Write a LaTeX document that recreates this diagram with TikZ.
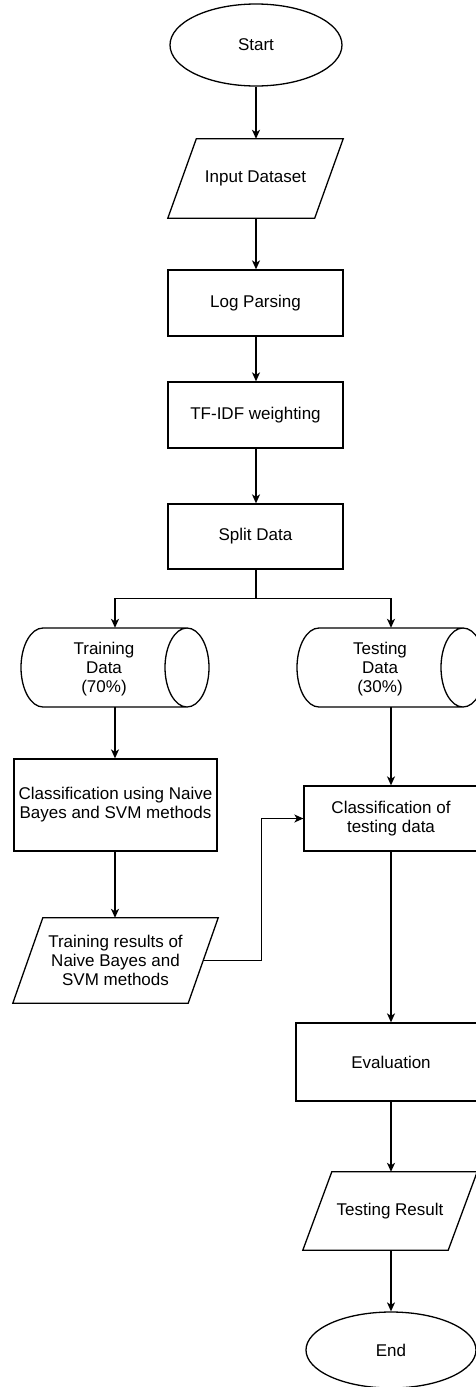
\documentclass[tikz,border=0pt]{standalone}
\usepackage{fontspec}
\setmainfont{Liberation Sans}
\usetikzlibrary{shapes.geometric,arrows.meta,calc}
\newcommand\paradraw[2]{\draw[line] ([xshift=-#2]#1.south west) -- ([xshift=-#2]#1.south east) -- ([xshift=#2]#1.north east) -- ([xshift=#2]#1.north west) -- cycle;}
\begin{document}
\begin{tikzpicture}[x=1pt,y=1pt,
  line/.style={line width=1.3pt,black},
  arr/.style={line,-{Stealth[length=9pt,width=8pt,inset=2.5pt]}},
  txt/.style={font=\fontsize{17}{19}\selectfont,align=center,inner sep=0pt},
  box/.style={txt,line,draw,rectangle},
  term/.style={txt,line,draw,ellipse,inner sep=0pt},
  para/.style={txt,rectangle}]
\useasboundingbox (0,0) rectangle (475,-1387);

\node[term,minimum width=172pt,minimum height=82pt] (start) at (256,-45) {Start};
\node[para,minimum width=146.5pt,minimum height=79pt] (input) at (255.5,-178.5) {Input Dataset};
\paradraw{input}{14.25pt}
\node[box,minimum width=175pt,minimum height=66pt] (log) at (255.5,-303) {Log Parsing};
\node[box,minimum width=175pt,minimum height=66pt] (tfidf) at (255.5,-415) {TF-IDF weighting};
\node[box,minimum width=175pt,minimum height=65pt] (split) at (255.5,-536.5) {Split Data};

% cylinders
\node[rectangle,inner sep=0pt,minimum width=188pt,minimum height=79pt] (train) at (115,-667.5) {};
\draw[line] (43,-628) -- (187,-628) (187,-667.5) ellipse [x radius=22, y radius=39.5]
  (187,-707) -- (43,-707) arc[start angle=270, end angle=90, x radius=22, y radius=39.5];
\node[txt] (trainlbl) at (104,-669) {Training\\Data\\(70\%)};

\node[rectangle,inner sep=0pt,minimum width=188pt,minimum height=79pt] (test) at (391,-667.5) {};
\draw[line] (319,-628) -- (463,-628) (463,-667.5) ellipse [x radius=22, y radius=39.5]
  (463,-707) -- (319,-707) arc[start angle=270, end angle=90, x radius=22, y radius=39.5];
\node[txt] (testlbl) at (380,-669) {Testing\\Data\\(30\%)};

\node[box,minimum width=203pt,minimum height=92pt] (clsL) at (115.5,-805) {Classification using Naive\\Bayes and SVM methods};
\node[box,minimum width=174pt,minimum height=65pt] (clsR) at (391,-818.5) {Classification of\\testing data};
\node[para,minimum width=175pt,minimum height=85pt] (trainres) at (115.5,-960.5) {Training results of\\Naive Bayes and\\SVM methods};
\paradraw{trainres}{15pt}
\node[box,minimum width=190pt,minimum height=78pt] (eval) at (391,-1062) {Evaluation};
\node[para,minimum width=145pt,minimum height=78pt] (testres) at (390,-1211) {Testing Result};
\paradraw{testres}{14.5pt}
\node[term,minimum width=170pt,minimum height=76pt] (end) at (391,-1350) {End};

% connectors
\draw[arr] (start.south) -- (start.south |- input.north);
\draw[arr] (input.south -| start.south) -- (log.north -| start.south);
\draw[arr] (log.south -| start.south) -- (tfidf.north -| start.south);
\draw[arr] (tfidf.south -| start.south) -- (split.north -| start.south);
\coordinate (branch) at ($(split.south -| start.south)+(0,-29)$);
\draw[line] (split.south -| start.south) -- (branch);
\draw[arr] (branch) -| (train.north);
\draw[arr] (branch) -| (test.north);
\draw[arr] (train.south) -- (train.south |- clsL.north);
\draw[arr] (test.south) -- (test.south |- clsR.north);
\draw[arr] (clsL.south -| train.south) -- (trainres.north -| train.south);
\coordinate (elbow) at ($(trainres.east)+(58,0)$);
\draw[arr] (trainres.east) -- (elbow) |- (clsR.west);
\draw[arr] (clsR.south) -- (eval.north);
\draw[arr] (eval.south) -- (eval.south |- testres.north);
\draw[arr] (testres.south -| eval.south) -- (end.north);
\end{tikzpicture}
\end{document}
